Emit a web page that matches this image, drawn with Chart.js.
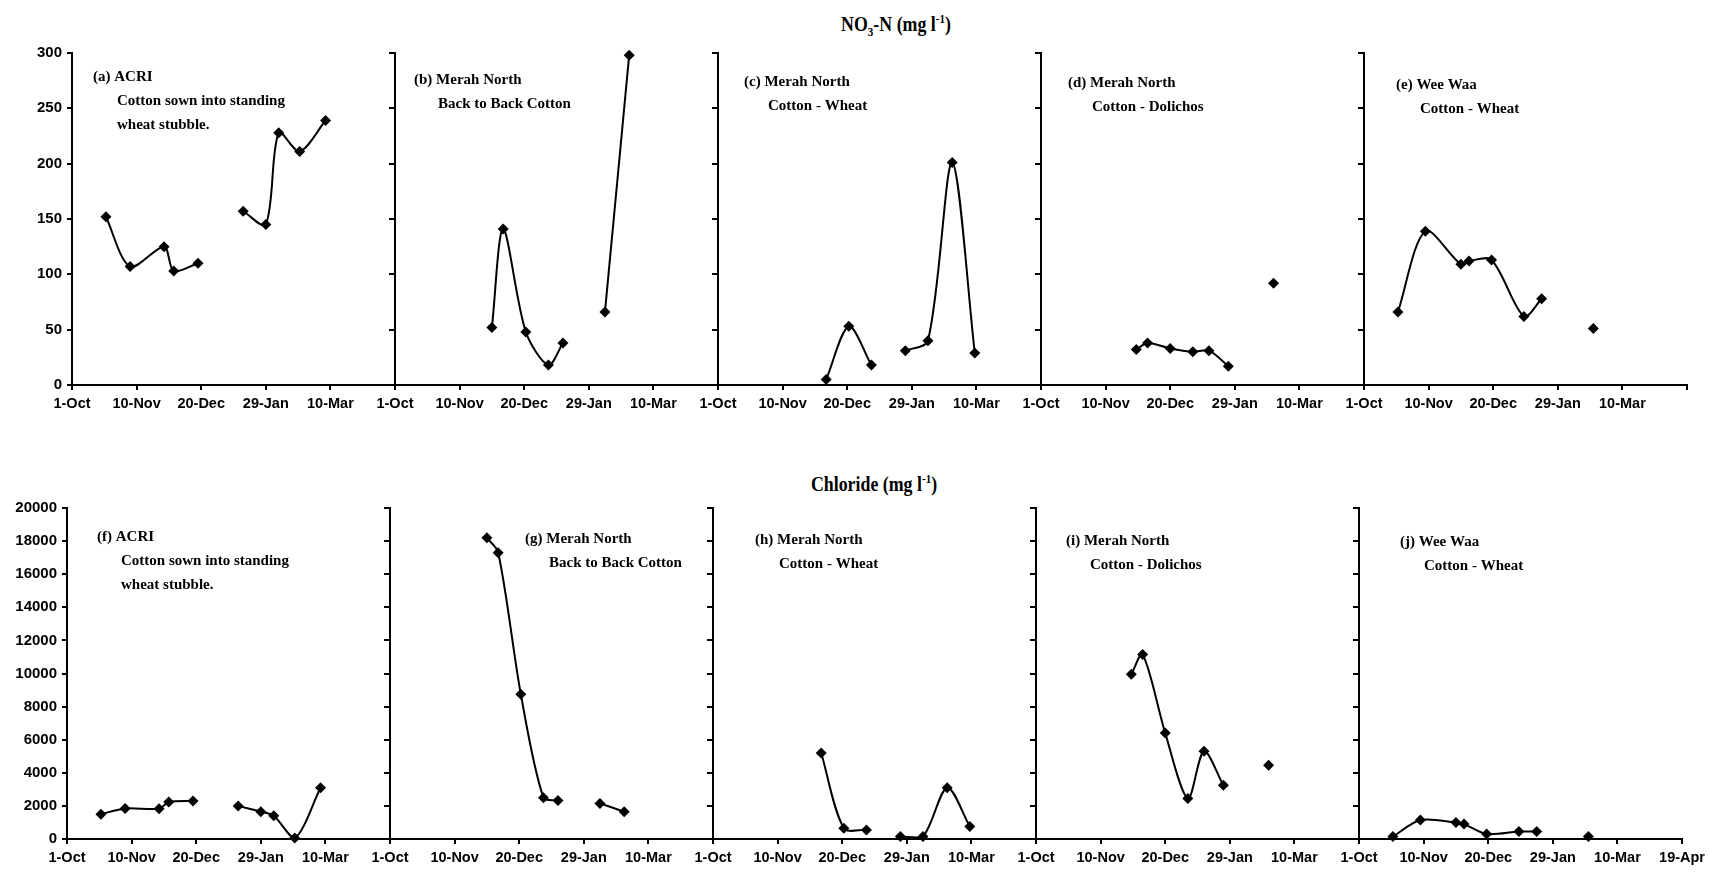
<!DOCTYPE html>
<html>
<head>
<meta charset="utf-8">
<title>NO3-N and Chloride</title>
<script src="https://cdn.jsdelivr.net/npm/chart.js@4.4.0/dist/chart.umd.min.js"></script>
<style>
  html, body { margin: 0; padding: 0; background: #fff; }
  body { width: 1710px; height: 883px; position: relative; overflow: hidden; }
  canvas { position: absolute; left: 0; }
  #no3Chart { top: 0; }
  #clChart { top: 440px; }
  .title {
    position: absolute; white-space: nowrap; color: #000; line-height: 1;
    font-family: 'Liberation Serif', 'Times New Roman', serif; font-weight: bold; font-size: 21px;
    transform: translateX(-50%) scaleX(0.85);
  }
  .title sub, .title sup { font-size: 13px; }
</style>
</head>
<body>
<div class="title" style="left:896px; top:12px;">NO<sub>3</sub>-N (mg l<sup>-1</sup>)</div>
<div class="title" style="left:874px; top:472px;">Chloride (mg l<sup>-1</sup>)</div>
<canvas id="no3Chart" width="1710" height="430"></canvas>
<canvas id="clChart" width="1710" height="443"></canvas>

<script>
// -----------------------------
// DATA (x = days after 1-Oct, null = break in the line)
// -----------------------------
const tickNames = ["1-Oct", "10-Nov", "20-Dec", "29-Jan", "10-Mar"];
const endLabel = "19-Apr";

const acriDays = [21, 36, 57, 63, 78, 92, 106, 120, 128, 141, 157];
const b2bDays  = [60, 67, 81, 95, 104, 117, 130, 145];
const cwDays   = [67, 81, 95, 105, 116, 130, 145, 159];
const cdDays   = [59, 66, 80, 94, 104, 116, 130, 144];
const wwDays   = [21, 38, 60, 65, 79, 99, 110, 126, 142];

// NO3-N (mg l-1)
const no3Acri = [152, 107, 125, 103, 110, null, 157, 145, 228, 211, 239];
const no3B2b  = [52, 141, 48, 18, 38, null, 66, 298];
const no3Cw   = [5, 53, 18, null, 31, 40, 201, 29];
const no3Cd   = [32, 38, 33, 30, 31, 17, null, 92];
const no3Ww   = [66, 139, 109, 112, 113, 62, 78, null, 51];

// Chloride (mg l-1)
const clAcri = [1500, 1850, 1830, 2230, 2300, null, 2000, 1650, 1400, 60, 3100];
const clB2b  = [18200, 17300, 8750, 2500, 2330, null, 2150, 1650];
const clCw   = [5200, 650, 550, null, 150, 150, 3100, 750];
const clCd   = [9950, 11150, 6400, 2450, 5300, 3250, null, 4450];
const clWw   = [150, 1150, 1000, 900, 300, 450, 450, null, 150];

const no3Ticks = [0, 300, 50];     // min, max, step
const clTicks  = [0, 20000, 2000];

const no3Labels = [
  ["(a) ACRI", "Cotton sown into standing", "wheat stubble."],
  ["(b) Merah North", "Back to Back Cotton"],
  ["(c) Merah North", "Cotton - Wheat"],
  ["(d) Merah North", "Cotton - Dolichos"],
  ["(e) Wee Waa", "Cotton - Wheat"]
];
const clLabels = [
  ["(f) ACRI", "Cotton sown into standing", "wheat stubble."],
  ["(g) Merah North", "Back to Back Cotton"],
  ["(h) Merah North", "Cotton - Wheat"],
  ["(i) Merah North", "Cotton - Dolichos"],
  ["(j) Wee Waa", "Cotton - Wheat"]
];

// -----------------------------
// LAYOUT
// -----------------------------
const panelSpan = 200;   // days per panel, 1-Oct .. 19-Apr
const tickStep = 40;
const tickFont = "'Liberation Sans', Arial, sans-serif";

// text offsets from each panel's axis / chart top
const no3LabelPos = [[21, 24], [19, 27], [26, 29], [27, 30], [32, 32]];
const clLabelPos  = [[30, 29], [135, 31], [42, 32], [30, 33], [41, 34]];

function panelTextPlugin(labels, offsets) {
  return {
    id: 'panelText',
    afterDraw(chart) {
      const ctx = chart.ctx;
      const xs = chart.scales.x;
      const top = chart.chartArea.top;
      ctx.save();
      ctx.fillStyle = '#000';
      ctx.font = "bold 15px 'Liberation Serif', 'Times New Roman', serif";
      ctx.textBaseline = 'middle';
      labels.forEach((lines, i) => {
        const x0 = xs.getPixelForValue(i * panelSpan) + offsets[i][0];
        lines.forEach((t, k) => {
          ctx.fillText(t, x0 + (k ? 24 : 0), top + offsets[i][1] + k * 24);
        });
      });
      ctx.restore();
    }
  };
}

function axisLook(extra) {
  return Object.assign({
    grid: { drawOnChartArea: false, drawTicks: true, tickLength: 5, color: '#000', lineWidth: 2 },
    border: { display: true, color: '#000', width: 2 }
  }, extra);
}

function buildRow(canvasId, dayLists, valueLists, yTicks, labels, labelPos, box) {
  const xMax = panelSpan * dayLists.length;
  const datasets = valueLists.map((vals, i) => ({
    data: dayLists[i].map((d, k) => ({ x: d + i * panelSpan, y: vals[k] })),
    borderColor: '#000',
    borderWidth: 2,
    backgroundColor: '#000',
    pointStyle: 'rectRot',
    pointRadius: 5.5,
    pointBorderWidth: 0,
    tension: 0.3,
    spanGaps: false,
    clip: false
  }));

  const scales = {
    x: axisLook({
      type: 'linear', min: 0, max: xMax,
      afterFit: s => { s.height = box.xHeight; },
      ticks: {
        stepSize: tickStep, autoSkip: false, maxRotation: 0, padding: 5,
        color: '#000', font: { family: tickFont, size: 14.5, weight: 'bold' },
        callback: v => {
          v = Math.round(v);
          if (v === xMax) return box.showEnd ? endLabel : '';
          return tickNames[(v % panelSpan) / tickStep];
        }
      }
    }),
    y: axisLook({
      position: 'left', min: yTicks[0], max: yTicks[1],
      afterFit: s => { s.width = box.yWidth; },
      ticks: {
        stepSize: yTicks[2], padding: 5,
        color: '#000', font: { family: tickFont, size: 15, weight: 'bold' },
        callback: v => String(v)
      }
    })
  };
  // inner panel axes, placed at each panel's 1-Oct
  for (let i = 1; i < dayLists.length; i++) {
    scales['y' + i] = axisLook({
      position: { x: i * panelSpan }, min: yTicks[0], max: yTicks[1],
      ticks: { display: false, stepSize: yTicks[2] }
    });
  }

  new Chart(document.getElementById(canvasId), {
    type: 'line',
    data: { datasets },
    options: {
      responsive: false,
      animation: false,
      layout: { padding: { top: box.top, right: box.right, left: 0, bottom: 0 } },
      plugins: { legend: { display: false }, tooltip: { enabled: false } },
      scales
    },
    plugins: [panelTextPlugin(labels, labelPos)]
  });
}

buildRow('no3Chart',
  [acriDays, b2bDays, cwDays, cdDays, wwDays],
  [no3Acri, no3B2b, no3Cw, no3Cd, no3Ww],
  no3Ticks, no3Labels, no3LabelPos,
  { top: 53, right: 23, yWidth: 72, xHeight: 45, showEnd: false });

buildRow('clChart',
  [acriDays, b2bDays, cwDays, cdDays, wwDays],
  [clAcri, clB2b, clCw, clCd, clWw],
  clTicks, clLabels, clLabelPos,
  { top: 68, right: 27, yWidth: 67, xHeight: 44, showEnd: true });
</script>
</body>
</html>
